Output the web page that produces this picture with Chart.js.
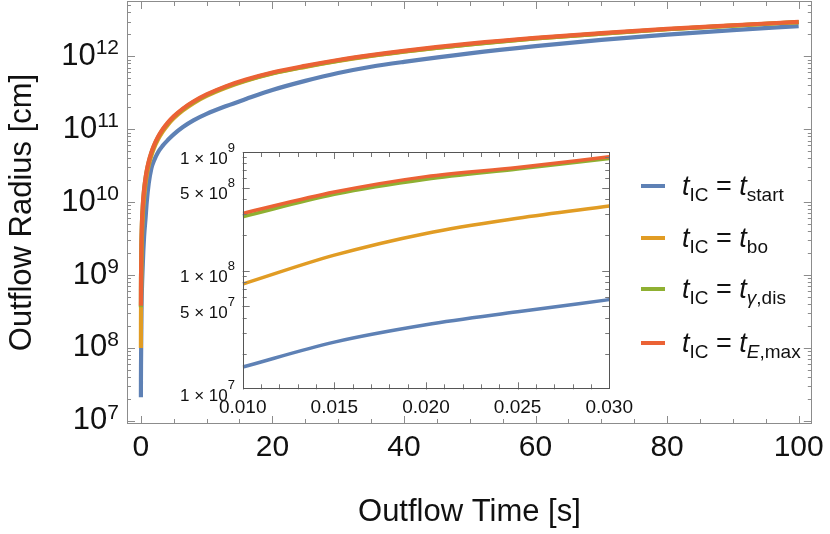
<!DOCTYPE html>
<html>
<head>
<meta charset="utf-8">
<script src="https://cdn.jsdelivr.net/npm/chart.js"></script>
<style>
  body { margin: 0; background: #fff; }
  #wrap { position: relative; width: 830px; height: 534px; overflow: hidden; font-family: "Liberation Sans", Arial, sans-serif; }
  #main { position: absolute; left: 0; top: 0; }
  #inset { position: absolute; left: 170px; top: 140px; }
  #legend { position: absolute; left: 641px; top: 171px; }
  .row { position: absolute; left: 0; height: 30px; display: flex; align-items: center; white-space: nowrap; }
  .swatch { width: 24px; height: 4px; margin-right: 17px; }
  .lbl { font-size: 27px; line-height: 30px; color: #111; }
  .lbl sub { font-size: 19px; line-height: 0; vertical-align: -6px; }
</style>
</head>
<body>
<div id="wrap">
  <canvas id="main" width="830" height="534"></canvas>
  <canvas id="inset" width="470" height="290"></canvas>
  <div id="legend"></div>
</div>
<script>
// outflow time [s] and radius [cm]
const time = [0.0125, 0.02, 0.03, 0.1, 0.3, 0.5, 0.7, 0.9, 1.2, 1.6, 2, 2.6, 3.3, 4.1, 5, 6.4, 8, 10, 13, 16, 20, 25, 30, 35, 40, 50, 60, 70, 80, 90, 100];
const rStart = [2.1e7, 3.5e7, 5.7e7, 3.0e8, 1.4e9, 3.4e9, 5.7e9, 1.0e10, 1.8e10, 2.9e10, 3.7e10, 4.8e10, 5.9e10, 7.1e10, 8.5e10, 1.07e11, 1.32e11, 1.62e11, 2.08e11, 2.6e11, 3.45e11, 4.6e11, 5.9e11, 7.2e11, 8.4e11, 1.1e12, 1.38e12, 1.68e12, 1.98e12, 2.29e12, 2.6e12];
const rBo = [1.0e8, 2.06e8, 3.5e8, 1.6e9, 6.5e9, 1.15e10, 1.75e10, 2.33e10, 3.2e10, 4.35e10, 5.5e10, 7.2e10, 9.2e10, 1.15e11, 1.41e11, 1.81e11, 2.28e11, 2.86e11, 3.73e11, 4.62e11, 5.8e11, 7.17e11, 8.64e11, 1.01e12, 1.16e12, 1.46e12, 1.76e12, 2.05e12, 2.35e12, 2.64e12, 2.95e12];
const rGammaDis = [3.6e8, 5.9e8, 8.8e8, 2.9e9, 8.8e9, 1.47e10, 2.06e10, 2.65e10, 3.53e10, 4.7e10, 5.88e10, 7.64e10, 9.7e10, 1.2e11, 1.47e11, 1.88e11, 2.35e11, 2.94e11, 3.82e11, 4.7e11, 5.88e11, 7.25e11, 8.72e11, 1.02e12, 1.17e12, 1.46e12, 1.76e12, 2.05e12, 2.35e12, 2.64e12, 2.95e12];
const rEMax = [3.8e8, 6.1e8, 9.1e8, 3.0e9, 9.0e9, 1.5e10, 2.1e10, 2.7e10, 3.6e10, 4.8e10, 6.0e10, 7.8e10, 9.9e10, 1.23e11, 1.5e11, 1.92e11, 2.4e11, 3.0e11, 3.9e11, 4.8e11, 6.0e11, 7.4e11, 8.9e11, 1.04e12, 1.19e12, 1.49e12, 1.79e12, 2.08e12, 2.38e12, 2.67e12, 2.97e12];

// zoomed inset, 0.01 - 0.03 s
const insetTime = [0.010, 0.015, 0.020, 0.025, 0.030];
const insetStart = [1.54e7, 2.5e7, 3.5e7, 4.5e7, 5.7e7];
const insetBo = [7.7e7, 1.35e8, 2.06e8, 2.76e8, 3.5e8];
const insetGammaDis = [2.85e8, 4.4e8, 5.9e8, 7.2e8, 8.8e8];
const insetEMax = [3.04e8, 4.6e8, 6.2e8, 7.4e8, 9.1e8];

const xTicks = [0, 20, 40, 60, 80, 100];
const yDecades = [7, 8, 9, 10, 11, 12];
const insetXTicks = [0.010, 0.015, 0.020, 0.025, 0.030];
const insetYTicks = [1e7, 5e7, 1e8, 5e8, 1e9];

const legendLabels = [
  '<i>t</i><sub>IC</sub> = <i>t</i><sub>start</sub>',
  '<i>t</i><sub>IC</sub> = <i>t</i><sub>bo</sub>',
  '<i>t</i><sub>IC</sub> = <i>t</i><sub><i>γ</i>,dis</sub>',
  '<i>t</i><sub>IC</sub> = <i>t</i><sub><i>E</i>,max</sub>'
];
const seriesColors = ['#5e81b5', '#e19c24', '#8fb032', '#eb6235'];

const FONT = '"Liberation Sans", Arial, sans-serif';

function makeDatasets(xs, series, width) {
  return series.map(function(ys, i) {
    return {
      data: xs.map(function(t, j) { return {x: t, y: ys[j]}; }),
      borderColor: seriesColors[i],
      borderWidth: width,
      pointRadius: 0,
      cubicInterpolationMode: 'monotone',
      order: series.length - i
    };
  });
}

function powerLabel(ctx, mant, exp, right, py, baseSize, expSize, baseDy, expDy) {
  ctx.font = expSize + 'px ' + FONT;
  const ew = ctx.measureText(exp).width;
  ctx.font = baseSize + 'px ' + FONT;
  ctx.textBaseline = 'middle';
  ctx.textAlign = 'right';
  ctx.fillText(mant + '10', right - ew, py + baseDy);
  ctx.font = expSize + 'px ' + FONT;
  ctx.textAlign = 'left';
  ctx.fillText(exp, right - ew, py + expDy);
}

// mathematica style frame: inward ticks on every side
const frameTicks = {
  id: 'frameTicks',
  beforeDraw(chart, args, opts) {
    if (!opts.fill) return;
    const a = chart.chartArea;
    chart.ctx.fillStyle = opts.fill;
    chart.ctx.fillRect(a.left, a.top, a.right - a.left, a.bottom - a.top);
  },
  afterDraw(chart, args, opts) {
    const ctx = chart.ctx, a = chart.chartArea;
    const x = chart.scales.x, y = chart.scales.y;
    ctx.save();
    ctx.strokeStyle = opts.color;
    ctx.lineWidth = 1;
    ctx.beginPath();
    function xt(v, len) {
      const px = Math.round(x.getPixelForValue(v)) + 0.5;
      if (px < a.left || px > a.right) return;
      ctx.moveTo(px, a.bottom); ctx.lineTo(px, a.bottom - len);
      ctx.moveTo(px, a.top); ctx.lineTo(px, a.top + len);
    }
    function yt(v, len) {
      const py = Math.round(y.getPixelForValue(v)) + 0.5;
      if (py < a.top || py > a.bottom) return;
      ctx.moveTo(a.left, py); ctx.lineTo(a.left + len, py);
      ctx.moveTo(a.right, py); ctx.lineTo(a.right - len, py);
    }
    opts.xMinor.forEach(function(v) { xt(v, opts.minorLen); });
    opts.xMajor.forEach(function(v) { xt(v, opts.majorLen); });
    opts.yMinor.forEach(function(v) { yt(v, opts.minorLen - 1); });
    opts.yMajor.forEach(function(v) { yt(v, opts.majorLen); });
    ctx.stroke();
    ctx.strokeStyle = opts.frame;
    ctx.strokeRect(Math.round(a.left) + 0.5, Math.round(a.top) + 0.5, Math.round(a.right - a.left) - 1, Math.round(a.bottom - a.top) - 1);
    ctx.fillStyle = '#111';
    opts.yLabels(ctx, y);
    ctx.restore();
  }
};

function logMinors(lo, hi) {
  const out = [];
  for (let n = lo; n <= hi; n++) {
    for (let k = 2; k <= 9; k++) out.push(k * Math.pow(10, n));
  }
  return out;
}

function steps(from, to, step) {
  const out = [];
  for (let i = 0; from + i * step <= to + 1e-9; i++) out.push(+(from + i * step).toFixed(6));
  return out;
}

window.onload = function() {
  new Chart(document.getElementById('main'), {
    type: 'line',
    data: { datasets: makeDatasets(time, [rStart, rBo, rGammaDis, rEMax], 4.2) },
    options: {
      responsive: false,
      animation: false,
      events: [],
      layout: { padding: { top: 1, right: 16, left: 0, bottom: 0 } },
      plugins: {
        legend: { display: false },
        tooltip: { enabled: false },
        frameTicks: {
          color: '#8c8c8c',
          frame: '#8c8c8c',
          majorLen: 8,
          minorLen: 5,
          xMajor: xTicks,
          xMinor: steps(0, 100, 5),
          yMajor: yDecades.map(function(n) { return Math.pow(10, n); }),
          yMinor: logMinors(6, 12),
          yLabels: function(ctx, y) {
            yDecades.forEach(function(n) {
              powerLabel(ctx, '', String(n), 119, y.getPixelForValue(Math.pow(10, n)), 31, 21, 0, -8);
            });
          }
        }
      },
      scales: {
        x: {
          type: 'linear',
          min: -2.1,
          max: 102,
          afterFit: function(s) { s.height = 110; },
          afterBuildTicks: function(s) { s.ticks = xTicks.map(function(v) { return {value: v}; }); },
          grid: { display: false, drawTicks: false },
          border: { display: false },
          ticks: { color: '#111', font: { family: FONT, size: 30 }, padding: 6, maxRotation: 0, autoSkip: false,
                   callback: function(v) { return String(v); } },
          title: { display: true, text: 'Outflow Time [s]', color: '#111', font: { family: FONT, size: 31 }, padding: { bottom: 3 } }
        },
        y: {
          type: 'logarithmic',
          min: 9.04e6,
          max: 5.74e12,
          afterFit: function(s) { s.width = 127; },
          afterBuildTicks: function(s) { s.ticks = yDecades.map(function(n) { return {value: Math.pow(10, n)}; }); },
          grid: { display: false, drawTicks: false },
          border: { display: false },
          ticks: { display: false },
          title: { display: true, text: 'Outflow Radius [cm]', color: '#111', font: { family: FONT, size: 31 }, padding: { top: 4 } }
        }
      }
    },
    plugins: [frameTicks]
  });

  new Chart(document.getElementById('inset'), {
    type: 'line',
    data: { datasets: makeDatasets(insetTime, [insetStart, insetBo, insetGammaDis, insetEMax], 3.5) },
    options: {
      responsive: false,
      animation: false,
      events: [],
      layout: { padding: { top: 12, right: 8.3, left: 0, bottom: 0 } },
      plugins: {
        legend: { display: false },
        tooltip: { enabled: false },
        frameTicks: {
          fill: '#fff',
          color: '#777',
          frame: '#555',
          majorLen: 7,
          minorLen: 5,
          xMajor: insetXTicks,
          xMinor: steps(0.010, 0.030, 0.001),
          yMajor: insetYTicks,
          yMinor: logMinors(7, 8),
          yLabels: function(ctx, y) {
            insetYTicks.forEach(function(v) {
              const n = Math.floor(Math.log10(v) + 1e-9);
              const m = Math.round(v / Math.pow(10, n));
              powerLabel(ctx, m + ' × ', String(n), 65, y.getPixelForValue(v), 17, 13, 7, -4);
            });
          }
        }
      },
      scales: {
        x: {
          type: 'linear',
          min: 0.010,
          max: 0.030,
          afterFit: function(s) { s.height = 40.7; },
          afterBuildTicks: function(s) { s.ticks = insetXTicks.map(function(v) { return {value: v}; }); },
          grid: { display: false, drawTicks: false },
          border: { display: false },
          ticks: { color: '#111', font: { family: FONT, size: 19 }, padding: 7, maxRotation: 0, autoSkip: false,
                   callback: function(v) { return v.toFixed(3); } }
        },
        y: {
          type: 'logarithmic',
          min: 1e7,
          max: 1e9,
          afterFit: function(s) { s.width = 72.7; },
          afterBuildTicks: function(s) { s.ticks = insetYTicks.map(function(v) { return {value: v}; }); },
          grid: { display: false, drawTicks: false },
          border: { display: false },
          ticks: { display: false }
        }
      }
    },
    plugins: [frameTicks]
  });

  const legend = document.getElementById('legend');
  legendLabels.forEach(function(html, i) {
    const row = document.createElement('div');
    row.className = 'row';
    row.style.top = (i * 51.7 + (i === 3 ? 2 : 0)) + 'px';
    row.innerHTML = '<div class="swatch" style="background:' + seriesColors[i] + '"></div><span class="lbl">' + html + '</span>';
    legend.appendChild(row);
  });
};
</script>
</body>
</html>
